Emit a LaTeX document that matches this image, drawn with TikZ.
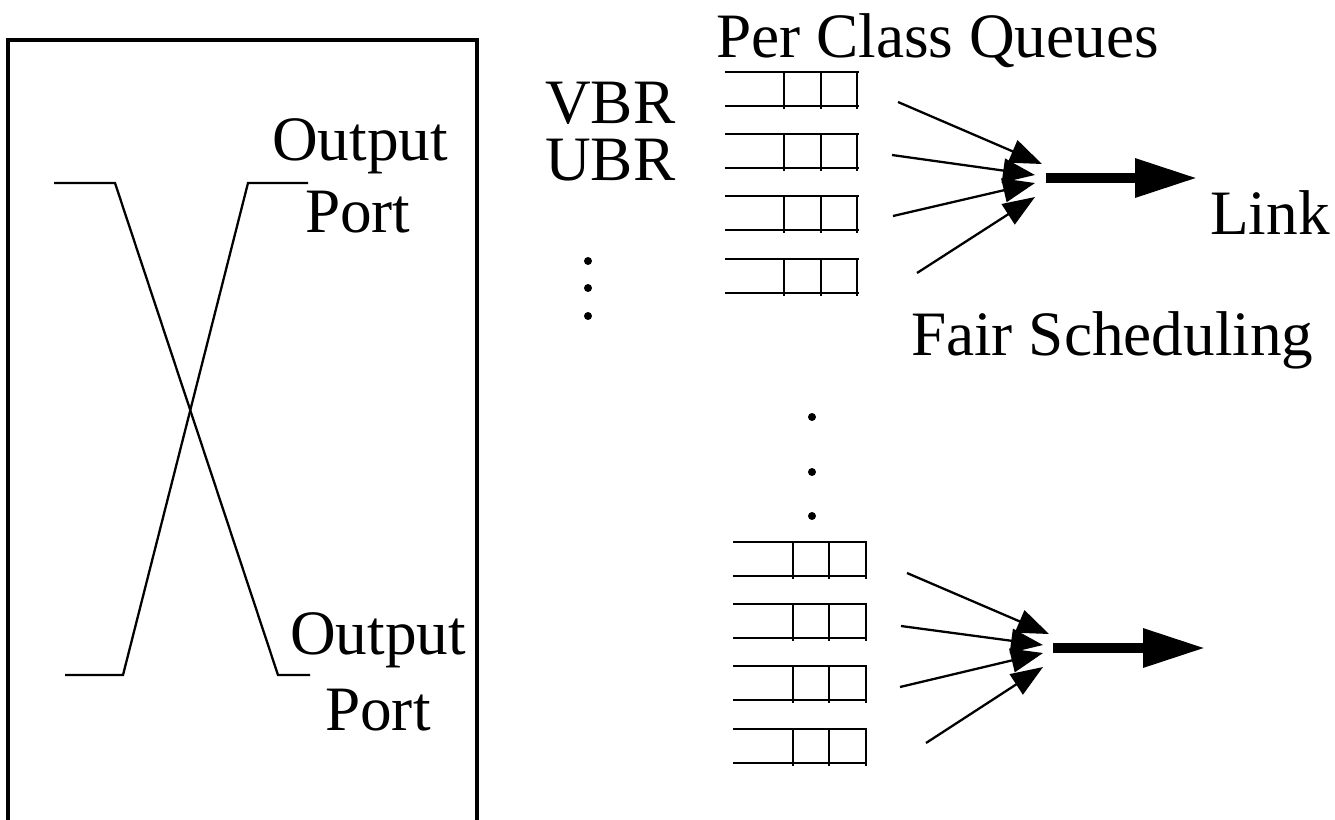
\documentclass[tikz,border=0pt]{standalone}
\usepackage{fontspec}
\setmainfont{Liberation Serif}
\usetikzlibrary{arrows.meta}

\begin{document}
\begin{tikzpicture}[x=0.02cm, y=-0.02cm, line width=1.3pt,
    lbl/.style={font=\fontsize{36}{40}\selectfont, inner sep=0pt, anchor=base west},
    feed/.style={-{Triangle[length=0.64cm,width=0.48cm]}},
    outlink/.style={line width=5.4pt, -{Triangle[length=1.24cm,width=0.74cm]}},
    dot/.style={circle, fill, inner sep=0pt, minimum size=0.16cm}]
      \useasboundingbox (0,0) rectangle (1335,819);
      % Switch box (open at the bottom)
      \draw[line width=1.9pt] (8,840) -- (8,40) -- (477,40) -- (477,840);
      % Crossing paths
      \coordinate (inA) at (54,183);
      \coordinate (bendA) at (115,183);
      \coordinate (bendB) at (278,675);
      \coordinate (outB) at (310,675);
      \coordinate (inC) at (65,675);
      \coordinate (bendC) at (123,675);
      \coordinate (bendD) at (248,183);
      \coordinate (outD) at (308,183);
      \draw (inA) -- (bendA) -- (bendB) -- (outB);
      \draw (inC) -- (bendC) -- (bendD) -- (outD);
      % Labels
      \node[lbl] (outtop) at (271,160) {Output};
      \node[lbl] (porttop) at (304,232) {Port};
      \node[lbl] (outbot) at (289,654) {Output};
      \node[lbl] (portbot) at (324,730) {Port};
      \node[lbl] (pcq) at (715,57) {Per Class Queues};
      \node[lbl] (vbr) at (544,123) {VBR};
      \node[lbl] (ubr) at (544,180) {UBR};
      \node[lbl] (link) at (1209,234) {Link};
      \node[lbl] (fair) at (910,355) {Fair Scheduling};
      % Dots
      \foreach \y [count=\i] in {261,288,316}
        \node[dot] (ldot\i) at (588,\y) {};
      \foreach \y [count=\i] in {417,472,516}
        \node[dot] (mdot\i) at (812,\y) {};
      % Queues, upper port
      \foreach \y in {72,134,196,259} {
        \draw (725,\y) -- (859,\y) (725,\y+34) -- (859,\y+34);
        \foreach \x in {784,821,857}
          \draw (\x,\y) -- (\x,\y+37);
      }
      % Queues, lower port
      \foreach \y in {542,604,666,729} {
        \draw (733,\y) -- (867,\y) (733,\y+34) -- (867,\y+34);
        \foreach \x in {793,829,866}
          \draw (\x,\y) -- (\x,\y+37);
      }
      % Scheduler inputs
      \foreach \xa/\ya/\xb/\yb [count=\i] in
          {898/102/1042/164, 892/155/1035/175, 893/216/1035/183, 917/273/1035/197} {
        \coordinate (ta\i) at (\xa,\ya);
        \coordinate (hd\i) at (\xb,\yb);
        \draw[feed] (ta\i) -- (hd\i);
      }
      \foreach \xa/\ya/\xb/\yb [count=\i] in
          {907/573/1049/634, 901/626/1043/645, 900/687/1043/653, 926/743/1043/667} {
        \coordinate (tb\i) at (\xa,\ya);
        \coordinate (hb\i) at (\xb,\yb);
        \draw[feed] (tb\i) -- (hb\i);
      }
      % Outgoing links
      \coordinate (schedA) at (1046,178);
      \coordinate (linkA) at (1197,178);
      \coordinate (schedB) at (1053,648);
      \coordinate (linkB) at (1205,648);
      \draw[outlink] (schedA) -- (linkA);
      \draw[outlink] (schedB) -- (linkB);
\end{tikzpicture}
\end{document}
